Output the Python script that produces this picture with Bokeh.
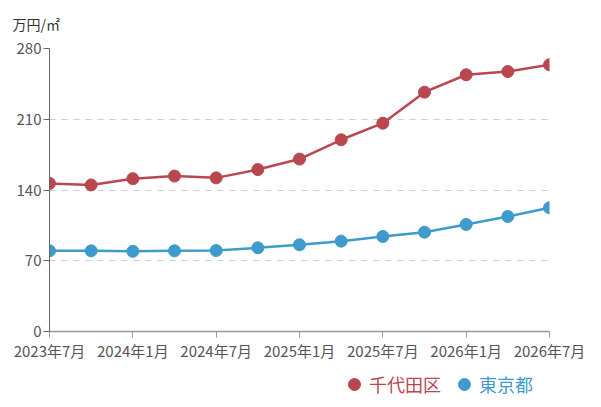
from bokeh.plotting import figure
from bokeh.layouts import column
from bokeh.models import (ColumnDataSource, FixedTicker, Legend, LegendItem, Title, Range1d)
from bokeh.embed import file_html
from bokeh.resources import INLINE

periods = ["2023年7月", "2023年10月", "2024年1月", "2024年4月", "2024年7月", "2024年10月",
           "2025年1月", "2025年4月", "2025年7月", "2025年10月", "2026年1月", "2026年4月", "2026年7月"]
chiyoda = [146.5, 145.0, 151.2, 153.8, 152.0, 160.2, 170.6, 189.7, 206.1, 236.8, 254.0, 257.2, 263.9]
tokyo = [79.8, 79.8, 79.3, 79.8, 80.1, 82.8, 85.8, 89.4, 94.0, 98.3, 105.9, 113.8, 122.4]
y_ticks = [0, 70, 140, 210, 280]
series_names = ["千代田区", "東京都"]
unit_label = "万円/㎡"

RED = "#b9474f"
BLUE = "#3e9bcc"
FONT = "Noto Sans CJK JP"

idx = list(range(len(periods)))
src = ColumnDataSource(dict(x=idx, chiyoda=chiyoda, tokyo=tokyo, period=periods))

p = figure(frame_width=500, frame_height=283, min_border_left=49, min_border_right=52,
           min_border_top=48, min_border_bottom=34, output_backend="svg",
           toolbar_location=None, x_range=Range1d(0, len(periods) - 1),
           y_range=Range1d(0, 280))
p.outline_line_color = None

p.line("x", "chiyoda", source=src, line_color=RED, line_width=2.5)
p.scatter("x", "chiyoda", source=src, size=12, fill_color=RED, line_color=RED)
p.line("x", "tokyo", source=src, line_color=BLUE, line_width=2.5)
p.scatter("x", "tokyo", source=src, size=12, fill_color=BLUE, line_color=BLUE)

# axes
p.xaxis.ticker = FixedTicker(ticks=idx[::2])
p.xaxis.major_label_overrides = {i: periods[i] for i in idx[::2]}
p.yaxis.ticker = FixedTicker(ticks=y_ticks)
for ax in (p.xaxis, p.yaxis):
    ax.major_label_text_font = FONT
    ax.major_label_text_color = "#555555"
    ax.major_label_text_font_size = "15px"
    ax.major_tick_in = 0
    ax.major_tick_out = 6
    ax.minor_tick_line_color = None
    ax.major_label_standoff = 2
p.yaxis.axis_line_color = "#666666"
p.yaxis.major_tick_line_color = "#666666"
p.xaxis.axis_line_color = "#999999"
p.xaxis.axis_line_width = 1.5
p.xaxis.major_tick_line_color = "#999999"

p.xgrid.grid_line_color = None
p.ygrid.grid_line_color = "#cccccc"
p.ygrid.grid_line_dash = "6 6"

# unit label
p.add_layout(Title(text=unit_label, align="left", offset=-37, text_font=FONT,
                   text_font_size="14px", text_color="#333333", text_font_style="normal",
                   vertical_align="top", standoff=26), "above")

# legend strip below the chart (two legends so each label keeps its own colour);
# its frame is aligned with the main frame by the column layout
lf = figure(width=601, height=42, min_border_left=0, min_border_right=0,
            min_border_top=0, min_border_bottom=0, output_backend="svg",
            toolbar_location=None, x_range=Range1d(0, 1), y_range=Range1d(0, 1),
            x_axis_location=None, y_axis_location=None)
lf.grid.visible = False
lf.outline_line_color = None
# legend proxies: same data, but outside this strip's ranges, so only the legend glyph shows
proxy_red = lf.scatter("x", "chiyoda", source=src, fill_color=RED, line_color=RED, size=12)
proxy_blue = lf.scatter("x", "tokyo", source=src, fill_color=BLUE, line_color=BLUE, size=12)
for name, rend, color, xloc in ((series_names[0], proxy_red, RED, 290),
                                (series_names[1], proxy_blue, BLUE, 400)):
    lg = Legend(items=[LegendItem(label=name, renderers=[rend])], location=(xloc, 8),
                orientation="horizontal", glyph_width=30, glyph_height=30,
                label_standoff=-2, padding=0, margin=0, border_line_color=None,
                background_fill_alpha=0, label_text_font=FONT, label_text_font_size="18px",
                label_text_color=color, label_height=30)
    lf.add_layout(lg, "center")

layout = column(p, lf, spacing=0)
open("out.html", "w").write(file_html(layout, INLINE))
